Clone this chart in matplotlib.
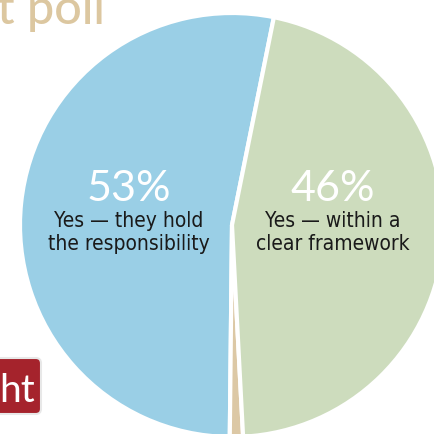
import matplotlib.pyplot as plt
from matplotlib.patches import FancyBboxPatch

# poll answers (share of respondents, %)
shares = [53, 1, 46]
colors = ["#9acfe6", "#dcc8a5", "#cddcbd"]
pct_labels = ["53%", "", "46%"]
answer_lines = [["Yes \u2014 they hold", "the responsibility"],
                [],
                ["Yes \u2014 within a", "clear framework"]]

W, H = 435, 434
fig = plt.figure(figsize=(W / 100, H / 100), dpi=100)

# pie centre (232, 225) px, radius 212 px
cx, cy, r = 232, 225, 212
ax = fig.add_axes([(cx - r) / W, (H - cy - r) / H, 2 * r / W, 2 * r / H])
ax.pie(shares, colors=colors, startangle=78.6, counterclock=True,
       radius=1, wedgeprops=dict(edgecolor="white", linewidth=3.0))
ax.set_xlim(-1, 1)
ax.set_ylim(-1, 1)
ax.set_aspect("equal")
ax.axis("off")

# label positions (px) for the two big slices
label_x = [129, None, 333]
for i, pct in enumerate(pct_labels):
    if not pct:
        continue
    x = label_x[i] / W
    fig.text(x, (H - 201) / H, pct, ha="center", va="baseline",
             color="white", fontsize=31, family=["Lato", "DejaVu Sans"],
             fontweight=400)
    for j, line in enumerate(answer_lines[i]):
        fig.text(x, (H - 227 - 23 * j) / H, line, ha="center", va="baseline",
                 color="#1a1a1a", fontsize=15, fontstretch="condensed",
                 family=["DejaVu Sans"])

# cropped title at the top-left
fig.text(-3 / W, (H - 24) / H, "t poll", ha="left", va="baseline",
         color="#dcc7a0", fontsize=35, family=["Lato", "DejaVu Sans"],
         fontweight=500)

# cropped red tag at the bottom-left
tag = FancyBboxPatch((-20 / W, (H - 414) / H), 61 / W, 56 / H,
                     boxstyle="round,pad=0,rounding_size=0.012",
                     transform=fig.transFigure, facecolor="#a5232c",
                     edgecolor="#e8e8e8", linewidth=1.5, figure=fig)
fig.patches.append(tag)
fig.text(-1 / W, (H - 402) / H, "ht", ha="left", va="baseline",
         color="white", fontsize=28, family=["Lato", "DejaVu Sans"])

fig.savefig("out.png", dpi=100)
